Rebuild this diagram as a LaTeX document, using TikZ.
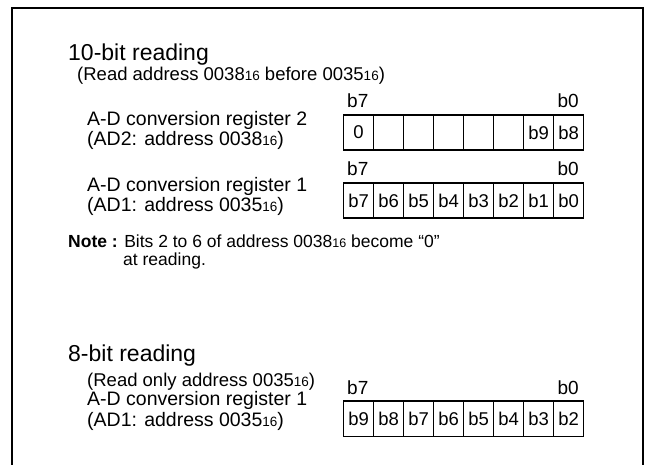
\documentclass[tikz,border=0pt]{standalone}
\usepackage{fontspec}
\setmainfont{Liberation Sans}
\newcommand\hxa{{\fontsize{13.5}{13.5}\selectfont 16}}
\newcommand\hxn{{\fontsize{12.5}{12.5}\selectfont 16}}
\begin{document}
\begin{tikzpicture}[x=1pt,y=-1pt,
  title/.style={anchor=base west, inner sep=0pt, font=\fontsize{23}{23}\selectfont},
  body/.style={anchor=base west, inner sep=0pt, font=\fontsize{19.5}{19.5}\selectfont},
  subtxt/.style={anchor=base west, inner sep=0pt, font=\fontsize{18.5}{18.5}\selectfont},
  notetxt/.style={anchor=base west, inner sep=0pt, font=\fontsize{17.5}{17.5}\selectfont},
  cell/.style={draw, line width=1.2pt, minimum width=30pt, minimum height=35pt, inner sep=0pt, anchor=north west, font=\fontsize{18.5}{18.5}\selectfont},
  bitlbl/.style={inner sep=0pt, font=\fontsize{19}{19}\selectfont}]
\useasboundingbox (0,0) rectangle (646,465);
\draw[line width=2.5pt] (12,470) -- (12,8) -- (643,8) -- (643,470);

% 10-bit reading
\node[title] (t1) at (68,61) {10-bit reading};
\node[subtxt] (t1s) at (77,81) {(Read address 0038\hxa\ before 0035\hxa)};
\node[body] (ad2a) at (87,126) {A-D conversion register 2};
\node[body] (ad2b) at (87,146) {(AD2: address 0038\hxa)};
\node[body] (ad1a) at (87,192) {A-D conversion register 1};
\node[body] (ad1b) at (87,212) {(AD1: address 0035\hxa)};

\node[bitlbl, anchor=base west] (l2h) at (347,108) {b7};
\node[bitlbl, anchor=base east] (l2l) at (579,108) {b0};
\foreach \t [count=\i from 0] in {0,{},{},{},{},{},b9,b8}
  \node[cell] (ra\i) at ({343+30*\i},114.5) {\t};

\node[bitlbl, anchor=base west] (l1h) at (347,176) {b7};
\node[bitlbl, anchor=base east] (l1l) at (579,176) {b0};
\foreach \t [count=\i from 0] in {b7,b6,b5,b4,b3,b2,b1,b0}
  \node[cell] (rb\i) at ({343+30*\i},182.5) {\t};

\node[notetxt] (note) at (68,248) {\textbf{Note :} Bits 2 to 6 of address 0038\hxn\ become “0”};
\node[notetxt] (note2) at (123,266) {at reading.};

% 8-bit reading
\node[title] (t2) at (68,362) {8-bit reading};
\node[subtxt] (t2s) at (87,386) {(Read only address 0035\hxa)};
\node[body] (ad1c) at (87,406) {A-D conversion register 1};
\node[body] (ad1d) at (87,426) {(AD1: address 0035\hxa)};

\node[bitlbl, anchor=base west] (l3h) at (347,395) {b7};
\node[bitlbl, anchor=base east] (l3l) at (579,395) {b0};
\foreach \t [count=\i from 0] in {b9,b8,b7,b6,b5,b4,b3,b2}
  \node[cell] (rc\i) at ({343+30*\i},400.5) {\t};
\end{tikzpicture}
\end{document}
